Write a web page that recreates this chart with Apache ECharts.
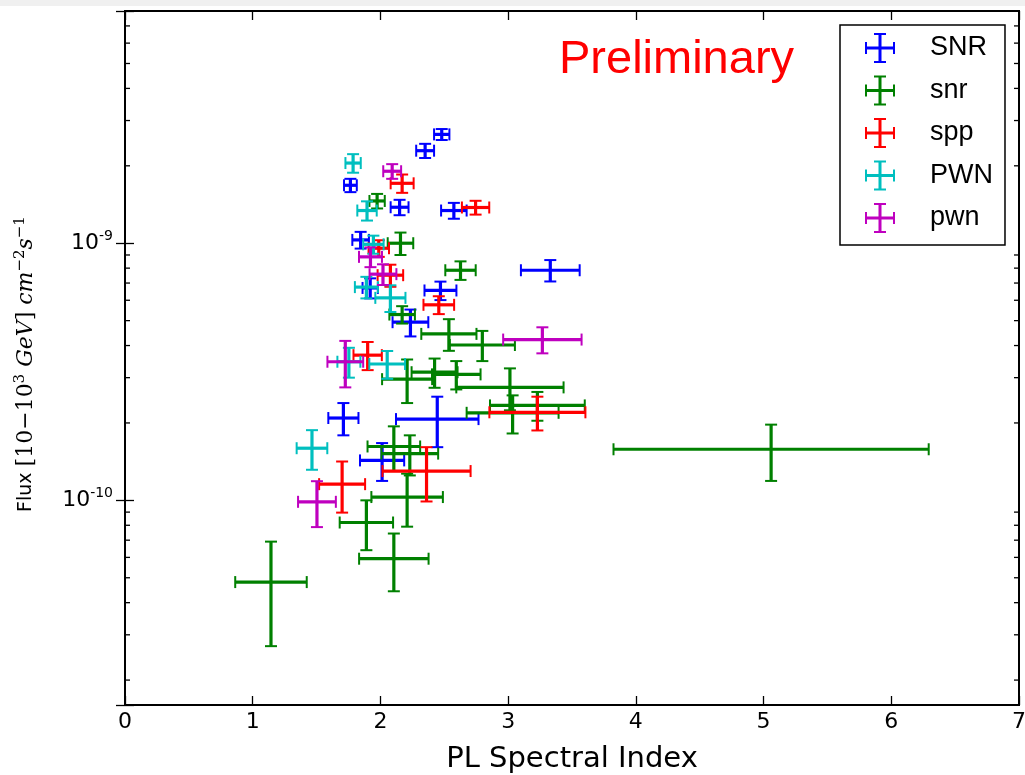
<!DOCTYPE html>
<html>
<head>
<meta charset="utf-8">
<script src="https://cdn.jsdelivr.net/npm/echarts@6/dist/echarts.min.js"></script>
<style>
html, body { margin: 0; padding: 0; background: #fff; }
#chart { width: 1025px; height: 775px; }
</style>
</head>
<body>
<div id="chart"></div>
<script>
// Source classes, drawn in this order
const classNames = ['SNR', 'snr', 'spp', 'PWN', 'pwn'];
const classColors = ['#0000ff', '#008000', '#ff0000', '#00bfbf', '#bf00bf'];

// Rows: [PL spectral index, index error, flux (cm^-2 s^-1), flux error]
const snrFirm = [
  [2.48, 0.06, 2.65e-9, 0.13e-9],
  [2.35, 0.07, 2.29e-9, 0.145e-9],
  [1.765, 0.05, 1.68e-9, 0.10e-9],
  [2.15, 0.07, 1.38e-9, 0.095e-9],
  [2.575, 0.10, 1.34e-9, 0.095e-9],
  [1.845, 0.065, 1.03e-9, 0.077e-9],
  [3.33, 0.23, 7.85e-10, 0.75e-10],
  [1.92, 0.06, 6.7e-10, 0.6e-10],
  [2.47, 0.125, 6.55e-10, 0.54e-10],
  [2.235, 0.14, 4.93e-10, 0.59e-10],
  [2.445, 0.323, 2.07e-10, 0.46e-10],
  [1.71, 0.118, 2.09e-10, 0.30e-10],
  [2.013, 0.173, 1.43e-10, 0.24e-10]
];
const snrCand = [
  [1.974, 0.06, 1.46e-9, 0.095e-9],
  [2.157, 0.10, 1.0e-9, 0.10e-9],
  [2.627, 0.119, 7.85e-10, 0.65e-10],
  [2.17, 0.10, 5.28e-10, 0.41e-10],
  [2.536, 0.216, 4.44e-10, 0.625e-10],
  [2.798, 0.255, 4.02e-10, 0.54e-10],
  [2.209, 0.196, 2.96e-10, 0.57e-10],
  [2.424, 0.18, 3.15e-10, 0.41e-10],
  [2.594, 0.19, 3.09e-10, 0.39e-10],
  [3.014, 0.42, 2.75e-10, 0.51e-10],
  [3.229, 0.371, 2.34e-10, 0.30e-10],
  [3.035, 0.36, 2.19e-10, 0.37e-10],
  [2.105, 0.206, 1.62e-10, 0.32e-10],
  [2.23, 0.222, 1.52e-10, 0.27e-10],
  [2.209, 0.28, 1.03e-10, 0.24e-10],
  [1.89, 0.209, 0.82e-10, 0.18e-10],
  [2.105, 0.272, 0.593e-10, 0.15e-10],
  [1.143, 0.28, 0.481e-10, 0.21e-10],
  [5.059, 1.234, 1.58e-10, 0.39e-10]
];
const sppCand = [
  [2.17, 0.09, 1.71e-9, 0.14e-9],
  [2.745, 0.107, 1.377e-9, 0.085e-9],
  [1.987, 0.08, 9.56e-10, 0.71e-10],
  [2.078, 0.10, 7.51e-10, 0.74e-10],
  [2.457, 0.12, 5.76e-10, 0.46e-10],
  [1.90, 0.111, 3.67e-10, 0.46e-10],
  [3.229, 0.376, 2.20e-10, 0.33e-10],
  [2.361, 0.345, 1.30e-10, 0.31e-10],
  [1.70, 0.18, 1.156e-10, 0.26e-10]
];
const pwnFirm = [
  [1.786, 0.06, 2.05e-9, 0.17e-9],
  [1.895, 0.076, 1.34e-9, 0.115e-9],
  [1.945, 0.08, 9.9e-10, 0.8e-10],
  [1.89, 0.09, 6.75e-10, 0.65e-10],
  [2.078, 0.118, 6.13e-10, 0.73e-10],
  [1.753, 0.09, 3.46e-10, 0.46e-10],
  [2.053, 0.14, 3.39e-10, 0.42e-10],
  [1.464, 0.12, 1.595e-10, 0.28e-10]
];
const pwnCand = [
  [2.092, 0.07, 1.905e-9, 0.125e-9],
  [1.922, 0.09, 8.85e-10, 0.78e-10],
  [2.02, 0.105, 7.58e-10, 0.70e-10],
  [3.268, 0.307, 4.22e-10, 0.49e-10],
  [1.725, 0.14, 3.46e-10, 0.71e-10],
  [1.503, 0.148, 0.987e-10, 0.20e-10]
];
const classData = [snrFirm, snrCand, sppCand, pwnFirm, pwnCand];

// Axis ranges
const xRange = [0, 7];
const xStep = 1;
const yRange = [1.6e-11, 8e-9];
// Log minor ticks: multipliers within each decade
const minorDecades = [1e-11, 1e-10, 1e-9];
const minorMultipliers = [2, 3, 4, 5, 6, 7, 8, 9];

const minorTicks = [];
minorDecades.forEach(d => minorMultipliers.forEach(m => {
  const v = m * d;
  if (v > yRange[0] && v < yRange[1]) minorTicks.push([v]);
}));

const chart = echarts.init(document.getElementById('chart'), null, { renderer: 'canvas' });

// Cross with caps: horizontal index error, vertical flux error
function errorBarRenderer(color) {
  return function (params, api) {
    const x = api.value(0), dx = api.value(1), y = api.value(2), dy = api.value(3);
    const c = api.coord([x, y]);
    const l = api.coord([x - dx, y]);
    const r = api.coord([x + dx, y]);
    const t = api.coord([x, y + dy]);
    const b = api.coord([x, y - dy]);
    const bar = { stroke: color, lineWidth: 3.2 };
    const cap = { stroke: color, lineWidth: 2 };
    const h = 6;
    return {
      type: 'group',
      children: [
        { type: 'line', shape: { x1: l[0], y1: c[1], x2: r[0], y2: c[1] }, style: bar },
        { type: 'line', shape: { x1: c[0], y1: t[1], x2: c[0], y2: b[1] }, style: bar },
        { type: 'line', shape: { x1: l[0], y1: c[1] - h, x2: l[0], y2: c[1] + h }, style: cap },
        { type: 'line', shape: { x1: r[0], y1: c[1] - h, x2: r[0], y2: c[1] + h }, style: cap },
        { type: 'line', shape: { x1: c[0] - h, y1: t[1], x2: c[0] + h, y2: t[1] }, style: cap },
        { type: 'line', shape: { x1: c[0] - h, y1: b[1], x2: c[0] + h, y2: b[1] }, style: cap }
      ]
    };
  };
}

// Minor log ticks on the left and right frame edges
function minorTickRenderer(params, api) {
  const v = api.value(0);
  const pl = api.coord([xRange[0], v]);
  const pr = api.coord([xRange[1], v]);
  const st = { stroke: '#000', lineWidth: 1.3 };
  return {
    type: 'group',
    children: [
      { type: 'line', shape: { x1: pl[0], y1: pl[1], x2: pl[0] + 5, y2: pl[1] }, style: st },
      { type: 'line', shape: { x1: pr[0] - 5, y1: pr[1], x2: pr[0], y2: pr[1] }, style: st }
    ]
  };
}

const legendIcon = 'path://M0 13.5H30V16.5H0Z M13.5 0H16.5V30H13.5Z M0 9H2V21H0Z M28 9H30V21H28Z M9 0H21V2H9Z M9 28H21V30H9Z';

function powerLabel(v) {
  const lg = Math.log10(v);
  const e = Math.round(lg);
  if (Math.abs(lg - e) > 1e-6) return '';
  return '{b|10}{s|' + e + '}';
}

const axisFont = 'DejaVu Sans';
const mathFont = 'DejaVu Serif';
const tickStyle = { show: true, inside: true, length: 9, lineStyle: { color: '#000', width: 1.3 } };

const series = classNames.map((name, i) => ({
  name: name,
  type: 'custom',
  coordinateSystem: 'cartesian2d',
  renderItem: errorBarRenderer(classColors[i]),
  itemStyle: { color: classColors[i] },
  encode: { x: 0, y: 2 },
  data: classData[i],
  silent: true,
  z: 2 + i
}));
series.push({
  name: 'minorTicks',
  type: 'custom',
  coordinateSystem: 'cartesian2d',
  renderItem: minorTickRenderer,
  data: minorTicks,
  encode: { y: 0 },
  silent: true,
  z: 20
});

chart.setOption({
  animation: false,
  backgroundColor: '#fff',
  grid: {
    left: 125, right: 6, top: 11, bottom: 70,
    outerBoundsMode: 'none',
    show: true, borderColor: '#000', borderWidth: 2, backgroundColor: 'transparent'
  },
  legend: {
    data: classNames,
    orient: 'vertical',
    left: 840, top: 25,
    padding: [8, 12, 12, 25],
    itemWidth: 30, itemHeight: 30, itemGap: 12.5,
    icon: legendIcon,
    itemStyle: { borderWidth: 0 },
    borderColor: '#000', borderWidth: 1.5, borderRadius: 0,
    backgroundColor: '#fff',
    selectedMode: false,
    textStyle: {
      fontFamily: 'Liberation Sans', fontSize: 27, color: '#000',
      lineHeight: 30, padding: [0, 0, 0, 30]
    }
  },
  xAxis: [
    {
      type: 'value', position: 'bottom',
      min: xRange[0], max: xRange[1], interval: xStep,
      axisLine: { show: false },
      axisTick: tickStyle,
      splitLine: { show: false },
      axisLabel: { color: '#000', fontFamily: axisFont, fontSize: 22, margin: 6 },
      name: 'PL Spectral Index',
      nameLocation: 'middle', nameGap: 40,
      nameTextStyle: { color: '#000', fontFamily: axisFont, fontSize: 29 }
    },
    {
      type: 'value', position: 'top',
      min: xRange[0], max: xRange[1], interval: xStep,
      axisLine: { show: false },
      axisTick: tickStyle,
      splitLine: { show: false },
      axisLabel: { show: false }
    }
  ],
  yAxis: [
    {
      type: 'log', logBase: 10, position: 'left',
      min: yRange[0], max: yRange[1],
      axisLine: { show: false },
      axisTick: tickStyle,
      splitLine: { show: false },
      axisLabel: {
        color: '#000', margin: 12,
        formatter: powerLabel,
        rich: {
          b: { fontFamily: axisFont, fontSize: 22, lineHeight: 28, color: '#000' },
          s: { fontFamily: axisFont, fontSize: 14, lineHeight: 14, verticalAlign: 'top', color: '#000' }
        }
      },
      name: '{f|Flux }{m|[10\u221210}{ms|3}{mi| GeV}{m|]}{m| }{mi|cm}{ms|\u22122}{mi|s}{ms|\u22121}',
      nameLocation: 'middle', nameGap: 85, nameRotate: 90,
      nameTextStyle: {
        color: '#000',
        padding: [0, 12, 0, 0],
        rich: {
          f: { fontFamily: axisFont, fontSize: 19, lineHeight: 27, color: '#000' },
          m: { fontFamily: mathFont, fontSize: 22, lineHeight: 27, color: '#000' },
          mi: { fontFamily: mathFont, fontStyle: 'italic', fontSize: 22, lineHeight: 27, color: '#000' },
          ms: { fontFamily: mathFont, fontSize: 15, lineHeight: 15, verticalAlign: 'top', color: '#000' }
        }
      }
    },
    {
      type: 'log', logBase: 10, position: 'right',
      min: yRange[0], max: yRange[1],
      axisLine: { show: false },
      axisTick: tickStyle,
      splitLine: { show: false },
      axisLabel: { show: false }
    }
  ],
  graphic: [
    { type: 'rect', left: 0, top: 0, shape: { width: 1025, height: 6 }, style: { fill: '#f0f0f0' }, silent: true },
    {
      type: 'text', x: 559, y: 60, silent: true,
      style: { text: 'Preliminary', fill: '#ff0000', font: '47px "Liberation Sans"', verticalAlign: 'middle', align: 'left' }
    }
  ],
  series: series
});
</script>
</body>
</html>
